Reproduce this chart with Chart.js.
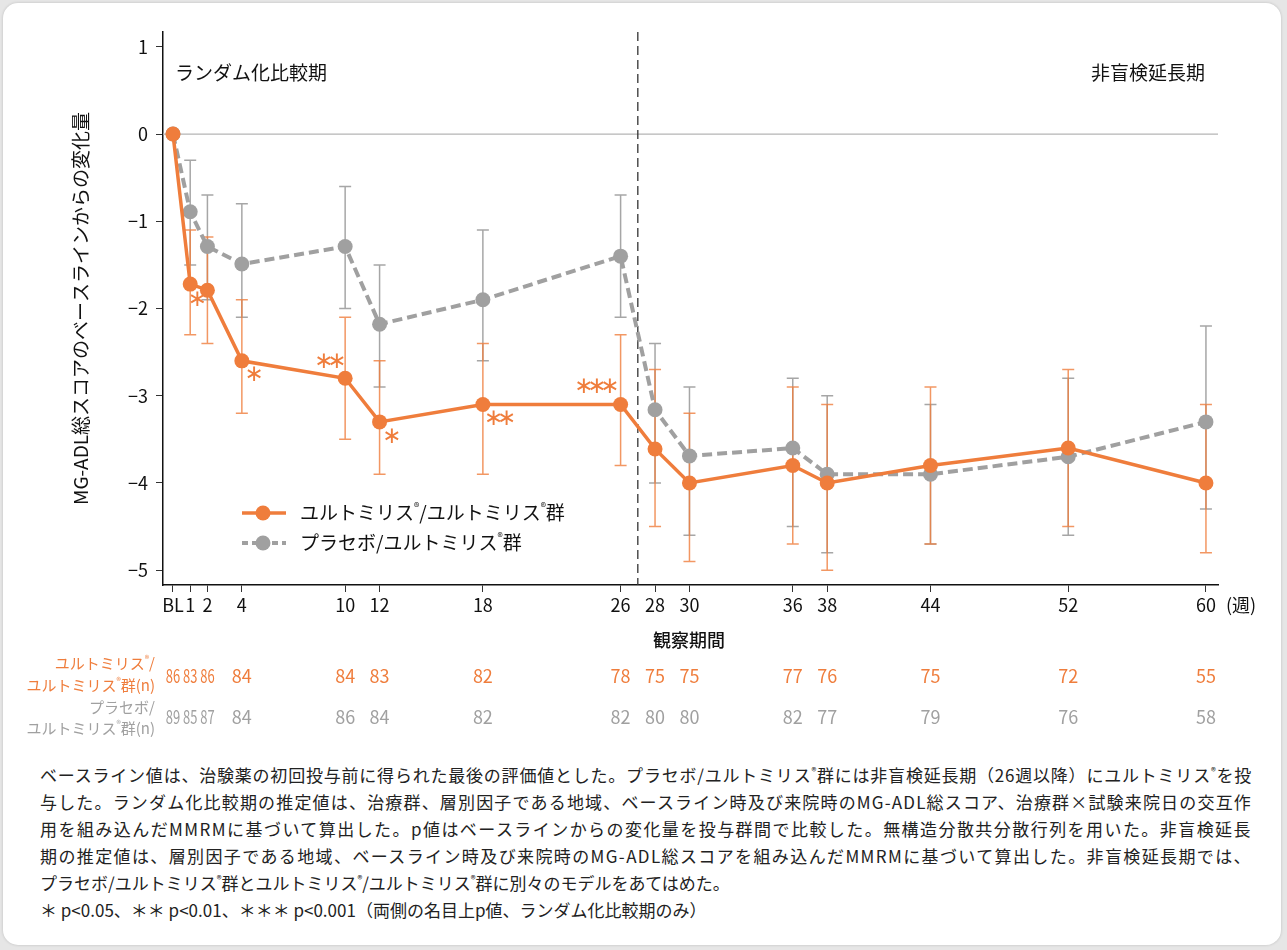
<!DOCTYPE html>
<html lang="ja">
<head>
<meta charset="utf-8">
<script src="https://cdn.jsdelivr.net/npm/chart.js@4.4.0/dist/chart.umd.min.js"></script>
<style>
html, body { margin: 0; padding: 0; background: #e6e6e6; }
body { width: 1287px; height: 950px; position: relative; overflow: hidden; font-family: "Noto Sans CJK JP", sans-serif; }
#card { position: absolute; left: 3px; top: 3px; width: 1278px; height: 942px; background: #fff; border-radius: 15px; box-shadow: 0 0 3px rgba(0,0,0,0.18); }
#wrap { position: absolute; left: 0; top: 0; width: 1287px; height: 745px; }
#note { position: absolute; left: 40px; top: 761px; width: 1212px; font-size: 17px; line-height: 27px; color: #222; }
#note div { white-space: nowrap; }
#note sup { font-size: 10px; vertical-align: 7px; line-height: 0; }
</style>
</head>
<body>
<div id="card"></div>
<div id="wrap"><canvas id="mgChart" width="1287" height="745"></canvas></div>
<div id="note">
  <div class="j"><span>ベースライン値は、治験薬の初回投与前に得られた最後の評価値とした。プラセボ/ユルトミリス<sup>®</sup>群には非盲検延長期（26週以降）にユルトミリス<sup>®</sup>を投</span></div>
  <div class="j"><span>与した。ランダム化比較期の推定値は、治療群、層別因子である地域、ベースライン時及び来院時のMG-ADL総スコア、治療群×試験来院日の交互作</span></div>
  <div class="j"><span>用を組み込んだMMRMに基づいて算出した。p値はベースラインからの変化量を投与群間で比較した。無構造分散共分散行列を用いた。非盲検延長</span></div>
  <div class="j"><span>期の推定値は、層別因子である地域、ベースライン時及び来院時のMG-ADL総スコアを組み込んだMMRMに基づいて算出した。非盲検延長期では、</span></div>
  <div><span>プラセボ/ユルトミリス<sup>®</sup>群とユルトミリス<sup>®</sup>/ユルトミリス<sup>®</sup>群に別々のモデルをあてはめた。</span></div>
  <div><span>＊ p&lt;0.05、＊＊ p&lt;0.01、＊＊＊ p&lt;0.001（両側の名目上p値、ランダム化比較期のみ）</span></div>
</div>
<script>
// 観察週と軸ラベル
const weeks = [0, 1, 2, 4, 10, 12, 18, 26, 28, 30, 36, 38, 44, 52, 60];
const weekLabels = ['BL', '1', '2', '4', '10', '12', '18', '26', '28', '30', '36', '38', '44', '52', '60'];
const yTicks = [1, 0, -1, -2, -3, -4, -5];
const switchWeek = 27; // ランダム化比較期 → 非盲検延長期

// ユルトミリス/ユルトミリス群
const ultMean  = [0, -1.72, -1.79, -2.6, -2.8, -3.3, -3.1, -3.1, -3.61, -4.0, -3.8, -4.0, -3.8, -3.6, -4.0];
const ultUpper = [null, -1.1, -1.18, -1.9, -2.1, -2.6, -2.4, -2.3, -2.7, -3.2, -2.9, -3.1, -2.9, -2.7, -3.1];
const ultLower = [null, -2.3, -2.4, -3.2, -3.5, -3.9, -3.9, -3.8, -4.5, -4.9, -4.7, -5.0, -4.7, -4.5, -4.8];
const ultN     = [86, 83, 86, 84, 84, 83, 82, 78, 75, 75, 77, 76, 75, 72, 55];
const ultSig   = ['', '*', '', '*', '**', '*', '**', '***', '', '', '', '', '', '', ''];

// プラセボ/ユルトミリス群
const plcMean  = [0, -0.89, -1.29, -1.49, -1.29, -2.18, -1.9, -1.4, -3.16, -3.69, -3.6, -3.9, -3.9, -3.7, -3.3];
const plcUpper = [null, -0.3, -0.7, -0.8, -0.6, -1.5, -1.1, -0.7, -2.4, -2.9, -2.8, -3.0, -3.1, -2.8, -2.2];
const plcLower = [null, -1.5, -1.9, -2.1, -2.0, -2.9, -2.6, -2.1, -4.0, -4.6, -4.5, -4.8, -4.7, -4.6, -4.3];
const plcN     = [89, 85, 87, 84, 86, 84, 82, 82, 80, 80, 82, 77, 79, 76, 58];

const ORANGE = '#ef7d3c';
const GRAY = '#a0a0a0';
const FONT = '"Noto Sans CJK JP", "Noto Sans", sans-serif';

// ®を上付きで描く
function richText(ctx, text, x, y, size, align, color) {
    const parts = text.split('®');
    const small = Math.round(size * 0.6);
    let total = 0;
    parts.forEach((p, i) => {
        ctx.font = size + 'px ' + FONT;
        total += ctx.measureText(p).width;
        if (i < parts.length - 1) { ctx.font = small + 'px ' + FONT; total += ctx.measureText('®').width; }
    });
    let cx = align === 'right' ? x - total : (align === 'center' ? x - total / 2 : x);
    ctx.fillStyle = color;
    ctx.textAlign = 'left';
    ctx.textBaseline = 'middle';
    parts.forEach((p, i) => {
        ctx.font = size + 'px ' + FONT;
        ctx.fillText(p, cx, y);
        cx += ctx.measureText(p).width;
        if (i < parts.length - 1) {
            ctx.font = small + 'px ' + FONT;
            ctx.fillText('®', cx, y - size * 0.3);
            cx += ctx.measureText('®').width;
        }
    });
}

var overlay = {
    id: 'overlay',
    beforeDatasetsDraw: function (chart) {
        const ctx = chart.ctx, xs = chart.scales.x, ys = chart.scales.y, area = chart.chartArea;
        ctx.save();
        // 0の基準線
        ctx.strokeStyle = '#b5b5b5'; ctx.lineWidth = 1.2;
        ctx.beginPath(); ctx.moveTo(area.left, ys.getPixelForValue(0)); ctx.lineTo(area.right, ys.getPixelForValue(0)); ctx.stroke();
        // 期間の区切り
        const sx = xs.getPixelForValue(switchWeek);
        ctx.strokeStyle = '#333'; ctx.lineWidth = 1.3; ctx.setLineDash([9, 5]);
        ctx.beginPath(); ctx.moveTo(sx, area.top); ctx.lineTo(sx, area.bottom); ctx.stroke();
        ctx.setLineDash([]);
        // エラーバー
        [[plcUpper, plcLower, 'rgba(150,150,150,0.85)'], [ultUpper, ultLower, 'rgba(239,125,60,0.8)']].forEach(function (e) {
            ctx.strokeStyle = e[2]; ctx.lineWidth = 1.5;
            weeks.forEach(function (w, i) {
                if (e[0][i] === null) return;
                const x = xs.getPixelForValue(w), y1 = ys.getPixelForValue(e[0][i]), y2 = ys.getPixelForValue(e[1][i]);
                ctx.beginPath();
                ctx.moveTo(x, y1); ctx.lineTo(x, y2);
                ctx.moveTo(x - 6, y1); ctx.lineTo(x + 6, y1);
                ctx.moveTo(x - 6, y2); ctx.lineTo(x + 6, y2);
                ctx.stroke();
            });
        });
        ctx.restore();
    },
    afterDraw: function (chart) {
        const ctx = chart.ctx, xs = chart.scales.x, ys = chart.scales.y;
        ctx.save();
        // 有意差の印
        const offs = { 1: [7, 16], 3: [12, 14], 4: [-15, -16], 5: [12, 15], 6: [17, 15], 7: [-24, -17] };
        ctx.fillStyle = ORANGE; ctx.font = '23px "DejaVu Sans"'; ctx.textAlign = 'center'; ctx.textBaseline = 'middle';
        ultSig.forEach(function (s, i) {
            if (!s) return;
            const o = offs[i] || [10, 15];
            const cx = xs.getPixelForValue(weeks[i]) + o[0], cy = ys.getPixelForValue(ultMean[i]) + o[1];
            for (let k = 0; k < s.length; k++) {
                ctx.fillText('\u2217', cx + (k - (s.length - 1) / 2) * 13, cy);
            }
        });
        // 期間名
        ctx.fillStyle = '#111'; ctx.font = '19px ' + FONT; ctx.textBaseline = 'middle';
        ctx.textAlign = 'left'; ctx.fillText('ランダム化比較期', 175, 73);
        ctx.textAlign = 'right'; ctx.fillText('非盲検延長期', 1205, 73);
        // 凡例
        ctx.lineWidth = 3.5; ctx.strokeStyle = ORANGE;
        ctx.beginPath(); ctx.moveTo(242, 513); ctx.lineTo(286, 513); ctx.stroke();
        ctx.fillStyle = ORANGE; ctx.beginPath(); ctx.arc(263, 513, 7.5, 0, Math.PI * 2); ctx.fill();
        ctx.lineWidth = 4; ctx.strokeStyle = GRAY; ctx.setLineDash([6, 4]);
        ctx.beginPath(); ctx.moveTo(242, 543); ctx.lineTo(286, 543); ctx.stroke();
        ctx.setLineDash([]);
        ctx.fillStyle = GRAY; ctx.beginPath(); ctx.arc(263, 543, 7.5, 0, Math.PI * 2); ctx.fill();
        richText(ctx, 'ユルトミリス®/ユルトミリス®群', 300, 513, 19, 'left', '#111');
        richText(ctx, 'プラセボ/ユルトミリス®群', 300, 543, 19, 'left', '#111');
        // 単位と軸名
        ctx.fillStyle = '#111'; ctx.font = '18px ' + FONT; ctx.textAlign = 'left'; ctx.textBaseline = 'middle';
        ctx.fillText('(週)', 1226, 605);
        ctx.font = '500 18px ' + FONT; ctx.textAlign = 'center';
        ctx.fillText('観察期間', 689, 640);
        // 症例数
        richText(ctx, 'ユルトミリス®/', 155, 663, 15, 'right', ORANGE);
        richText(ctx, 'ユルトミリス®群(n)', 155, 685, 15, 'right', ORANGE);
        richText(ctx, 'プラセボ/', 155, 707, 15, 'right', GRAY);
        richText(ctx, 'ユルトミリス®群(n)', 155, 728, 15, 'right', GRAY);
        [[ultN, 676, ORANGE], [plcN, 717, GRAY]].forEach(function (r) {
            ctx.fillStyle = r[2];
            r[0].forEach(function (n, i) {
                const x = xs.getPixelForValue(weeks[i]);
                ctx.save();
                ctx.translate(x, r[1]);
                if (i < 3) { ctx.scale(0.72, 1); }
                ctx.font = '18px ' + FONT;
                ctx.textAlign = 'center'; ctx.textBaseline = 'middle';
                ctx.fillText(String(n), 0, 0);
                ctx.restore();
            });
        });
        ctx.restore();
    }
};

var ctx = document.getElementById('mgChart').getContext('2d');
new Chart(ctx, {
    type: 'line',
    data: {
        datasets: [
            {
                label: 'ユルトミリス®/ユルトミリス®群',
                data: weeks.map((w, i) => ({ x: w, y: ultMean[i] })),
                borderColor: ORANGE, backgroundColor: ORANGE,
                borderWidth: 3.5, pointRadius: 7.5, pointHoverRadius: 7.5, pointBorderWidth: 0,
                tension: 0, order: 0
            },
            {
                label: 'プラセボ/ユルトミリス®群',
                data: weeks.map((w, i) => ({ x: w, y: plcMean[i] })),
                borderColor: GRAY, backgroundColor: GRAY,
                borderWidth: 4, borderDash: [10, 5], pointRadius: 7.5, pointHoverRadius: 7.5, pointBorderWidth: 0,
                tension: 0, order: 1
            }
        ]
    },
    options: {
        responsive: false,
        animation: false,
        layout: { padding: { left: 69, top: 32, right: 69, bottom: 0 } },
        plugins: { legend: { display: false }, tooltip: { enabled: false } },
        scales: {
            x: {
                type: 'linear', min: -0.58, max: 60.7,
                afterBuildTicks: function (s) { s.ticks = weeks.map(v => ({ value: v })); },
                afterFit: function (s) { s.height = 160; },
                ticks: {
                    autoSkip: false, maxRotation: 0, padding: 2, color: '#111',
                    font: { size: 18, family: FONT },
                    callback: function (v) { return weekLabels[weeks.indexOf(v)]; }
                },
                grid: { drawOnChartArea: false, tickLength: 7, color: '#333', lineWidth: 1 },
                border: { color: '#111', width: 1.5 }
            },
            y: {
                min: -5.17, max: 1.17,
                afterBuildTicks: function (s) { s.ticks = yTicks.map(v => ({ value: v })); },
                afterFit: function (s) { s.width = 94; },
                ticks: {
                    padding: 8, color: '#111', font: { size: 18, family: FONT },
                    callback: function (v) { return v < 0 ? '\u2212' + Math.abs(v) : String(v); }
                },
                title: {
                    display: true, text: 'MG-ADL総スコアのベースラインからの変化量',
                    color: '#111', font: { size: 19, family: FONT }, padding: 0
                },
                grid: { drawOnChartArea: false, tickLength: 7, color: '#333', lineWidth: 1 },
                border: { color: '#111', width: 1.5 }
            }
        }
    },
    plugins: [overlay]
});

// 脚注を両端揃えにする
document.querySelectorAll('#note .j span').forEach(function (sp) {
    const w = sp.getBoundingClientRect().width;
    const n = sp.textContent.length;
    sp.style.letterSpacing = ((1212 - w) / n) + 'px';
});
</script>
</body>
</html>
